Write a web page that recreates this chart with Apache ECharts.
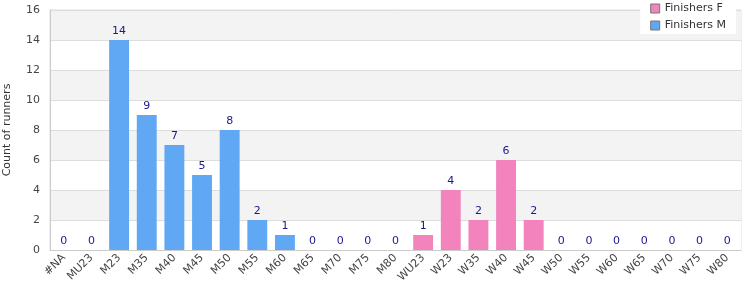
<!DOCTYPE html>
<html>
<head>
<meta charset="utf-8">
<script src="https://cdn.jsdelivr.net/npm/echarts@6/dist/echarts.min.js"></script>
<style>
html,body{margin:0;padding:0;background:#fff}
#chart{width:750px;height:300px}
</style>
</head>
<body>
<div id="chart"></div>
<script>
var categories = ['#NA','MU23','M23','M35','M40','M45','M50','M55','M60','M65','M70','M75','M80',
	'WU23','W23','W35','W40','W45','W50','W55','W60','W65','W70','W75','W80'];
var finishersM = [0,0,14,9,7,5,8,2,1,0,0,0,0,'-','-','-','-','-','-','-','-','-','-','-','-'];
var finishersF = ['-','-','-','-','-','-','-','-','-','-','-','-','-',1,4,2,6,2,0,0,0,0,0,0,0];
var yTicks = {min: 0, max: 16, interval: 2};

var myChart = echarts.init(document.getElementById('chart'));
var labelStyle = {
	show: true,
	position: 'top',
	color: '#1a1a8c',
	fontSize: 11,
	fontFamily: 'DejaVu Sans',
	distance: 3
};
var option = {
	animation: false,
	textStyle: {fontFamily: 'DejaVu Sans'},
	legend: {
		orient: 'vertical',
		right: 14,
		top: 0,
		backgroundColor: '#fff',
		padding: [3, 10, 3, 10],
		itemGap: 6,
		itemWidth: 9,
		itemHeight: 9,
		icon: 'rect',
		itemStyle: {borderColor: '#777', borderWidth: 1},
		textStyle: {fontSize: 11, color: '#333', fontFamily: 'DejaVu Sans'},
		data: ['Finishers F', 'Finishers M']
	},
	grid: {
		left: 50,
		right: 9,
		top: 10,
		bottom: 50,
		outerBoundsMode: 'none',
		show: true,
		borderColor: '#ddd',
		borderWidth: 1,
		backgroundColor: 'transparent'
	},
	xAxis: {
		type: 'category',
		data: categories,
		axisLine: {lineStyle: {color: '#ccc'}},
		axisTick: {show: false},
		axisLabel: {
			rotate: 45,
			interval: 0,
			fontSize: 11,
			color: '#444',
			margin: 6
		}
	},
	yAxis: {
		type: 'value',
		min: yTicks.min,
		max: yTicks.max,
		interval: yTicks.interval,
		name: 'Count of runners',
		nameLocation: 'middle',
		nameGap: 37,
		nameTextStyle: {fontSize: 11, color: '#333'},
		axisLine: {show: true, lineStyle: {color: '#ccc'}},
		axisTick: {show: false},
		axisLabel: {fontSize: 11, color: '#444', margin: 10},
		splitLine: {lineStyle: {color: '#ddd'}},
		splitArea: {show: true, areaStyle: {color: ['#ffffff', '#f3f3f3']}}
	},
	series: [{
		name: 'Finishers F',
		type: 'bar',
		stack: 'all',
		barWidth: '72%',
		itemStyle: {color: '#f383bd'},
		label: labelStyle,
		data: finishersF
	}, {
		name: 'Finishers M',
		type: 'bar',
		stack: 'all',
		barWidth: '72%',
		itemStyle: {color: '#60a8f3'},
		label: labelStyle,
		data: finishersM
	}]
};
myChart.setOption(option);
</script>
</body>
</html>
